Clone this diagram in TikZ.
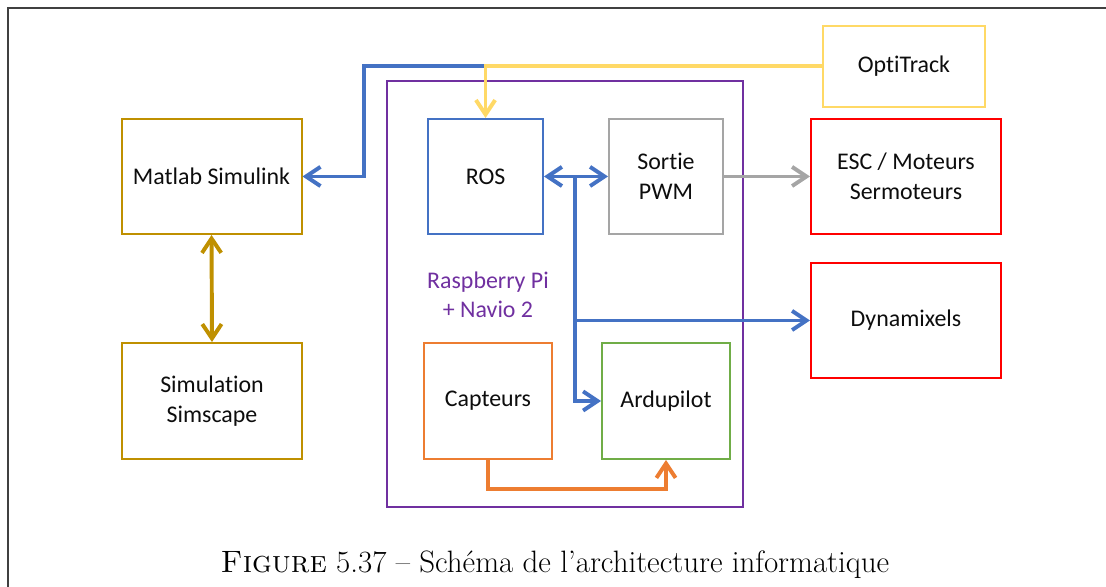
\documentclass[tikz,border=0pt]{standalone}
\usepackage{fontspec}
\newfontfamily\diagfont[Ligatures=NoCommon]{Carlito}
\usetikzlibrary{arrows.meta}
\definecolor{simgold}{RGB}{191,144,0}
\definecolor{rosblue}{RGB}{68,114,196}
\definecolor{pwmgray}{RGB}{165,165,165}
\definecolor{escred}{RGB}{255,0,0}
\definecolor{optiyellow}{RGB}{255,217,102}
\definecolor{rpipurple}{RGB}{112,48,160}
\definecolor{sensorange}{RGB}{237,125,49}
\definecolor{ardugreen}{RGB}{112,173,71}
\tikzset{
  unit/.style={line width=1.4pt, fill=white, align=center, inner sep=0pt, text=black!95, font=\diagfont\fontsize{17}{21}\selectfont},
  board/.style={draw=rpipurple, line width=1.2pt},
  boardlabel/.style={text=rpipurple, align=center, font=\diagfont\fontsize{17}{21}\selectfont},
  wire/.style={line width=2.8pt, line join=miter},
  frameline/.style={draw=black!75, line width=1.1pt},
  >={Straight Barb[length=0.36cm,width=0.48cm]},
}

\begin{document}
\begin{tikzpicture}
\useasboundingbox (0,0) rectangle (27.65,14.675);
\draw[frameline] (0.200,0) -- (0.200,14.475) -- (27.65,14.475);
\draw[board] (9.675,2.000) rectangle (18.575,12.650);
\node[boardlabel] (rpilabel) at (12.200,7.300) {Raspberry Pi\\+ Navio 2};
\node[unit, draw=simgold, minimum width=4.5cm, minimum height=2.875cm] (matlab) at (5.288,10.263) {Matlab Simulink};
\node[unit, draw=simgold, minimum width=4.5cm, minimum height=2.9cm] (simscape) at (5.300,4.650) {Simulation\\Simscape};
\node[unit, draw=rosblue, minimum width=2.875cm, minimum height=2.875cm] (ros) at (12.138,10.263) {ROS};
\node[unit, draw=pwmgray, minimum width=2.85cm, minimum height=2.875cm] (pwm) at (16.650,10.263) {Sortie\\PWM};
\node[unit, draw=escred, minimum width=4.75cm, minimum height=2.875cm] (esc) at (22.650,10.263) {ESC / Moteurs\\Sermoteurs};
\node[unit, draw=optiyellow, minimum width=4.05cm, minimum height=2.025cm] (opti) at (22.600,13.013) {OptiTrack};
\node[unit, draw=escred, minimum width=4.75cm, minimum height=2.875cm] (dyna) at (22.650,6.663) {Dynamixels};
\node[unit, draw=sensorange, minimum width=3.2cm, minimum height=2.9cm] (capteurs) at (12.200,4.650) {Capteurs};
\node[unit, draw=ardugreen, minimum width=3.2cm, minimum height=2.9cm] (ardu) at (16.650,4.650) {Ardupilot};
\coordinate (junc) at (ros.north |- opti.west);
\coordinate (bend) at (9.100,13.013);
\coordinate (tee) at (14.375,10.263);
\draw[wire, draw=rosblue, ->] (junc) -- (bend) |- (matlab.east);
\draw[wire, draw=optiyellow, ->] (opti.west) -- (junc) -- (ros.north);
\draw[wire, draw=rosblue, <->] (ros.east) -- (pwm.west);
\draw[wire, draw=rosblue, ->] (tee) |- (ardu.west);
\draw[wire, draw=rosblue, ->] (tee |- dyna.west) -- (dyna.west);
\draw[wire, draw=pwmgray, ->] (pwm.east) -- (esc.west);
\draw[wire, draw=simgold, <->] (matlab.south) -- (simscape.north);
\draw[wire, draw=sensorange, ->] (capteurs.south) -- ++(0,-0.725) -| (ardu.south);
\node (caption) at (13.875,0.550) {\fontsize{22}{26}\selectfont\textsc{Figure} 5.37 – Schéma de l’architecture informatique};
\end{tikzpicture}
\end{document}
